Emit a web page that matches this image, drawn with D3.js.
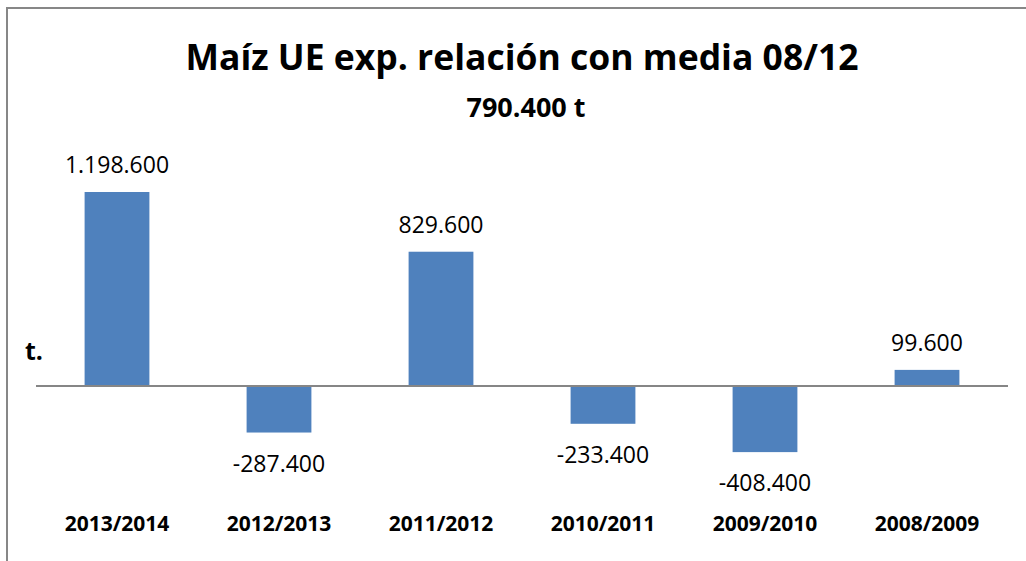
<!DOCTYPE html>
<html>
<head>
<meta charset="utf-8">
<script src="https://cdn.jsdelivr.net/npm/d3@7"></script>
<style>
  html, body { margin: 0; padding: 0; background: #fff; }
  svg { display: block; }
</style>
</head>
<body>
<div id="chart"></div>
<script>
// data
const campaigns = ['2013/2014', '2012/2013', '2011/2012', '2010/2011', '2009/2010', '2008/2009']
const diffs = [1198600, -287400, 829600, -233400, -408400, 99600]
const title = 'Maíz UE exp. relación con media 08/12'
const subtitle = '790.400 t'
const unitLabel = 't.'

const width = 1026, height = 561
const barColor = '#4F81BD'
const axisColor = '#868686'
const font = '"Open Sans", "Liberation Sans", sans-serif'

const es = d3.formatLocale({ decimal: ',', thousands: '.', grouping: [3], currency: ['', ' €'], minus: '-' })
const fmt = es.format(',')

const svg = d3.select('#chart')
  .append('svg')
    .attr('width', width)
    .attr('height', height)

// chart frame
svg.append('rect')
    .attr('x', 7)
    .attr('y', 8)
    .attr('width', width + 20)
    .attr('height', height + 20)
    .attr('fill', '#fff')
    .attr('stroke', '#878787')
    .attr('stroke-width', 2)

const x = d3.scaleBand()
    .domain(campaigns)
    .range([36, 1008])
    .paddingInner(0.6)
    .paddingOuter(0.3)

const y = d3.scaleLinear()
    .domain([-800000, 1400000])
    .range([515.5, 159.4])

const g = svg.append('g')

g.selectAll('rect.bar')
  .data(diffs)
  .enter()
  .append('rect')
    .attr('class', 'bar')
    .attr('x', (d, i) => x(campaigns[i]))
    .attr('width', x.bandwidth())
    .attr('y', d => y(Math.max(0, d)))
    .attr('height', d => Math.abs(y(d) - y(0)))
    .attr('fill', barColor)

// zero line
g.append('line')
    .attr('x1', 36)
    .attr('x2', 1008)
    .attr('y1', y(0))
    .attr('y2', y(0))
    .attr('stroke', axisColor)
    .attr('stroke-width', 2)

// value labels
g.selectAll('text.val')
  .data(diffs)
  .enter()
  .append('text')
    .attr('class', 'val')
    .attr('x', (d, i) => x(campaigns[i]) + x.bandwidth() / 2)
    .attr('y', d => d >= 0 ? y(d) - 19 : y(d) + 39)
    .attr('text-anchor', 'middle')
    .attr('font-family', font)
    .attr('font-size', 23)
    .attr('fill', '#000')
    .text(d => fmt(d))

// category labels
g.selectAll('text.cat')
  .data(campaigns)
  .enter()
  .append('text')
    .attr('class', 'cat')
    .attr('x', d => x(d) + x.bandwidth() / 2)
    .attr('y', 531)
    .attr('text-anchor', 'middle')
    .attr('font-family', font)
    .attr('font-weight', 'bold')
    .attr('font-size', 21)
    .text(d => d)

// unit label
svg.append('text')
    .attr('x', 25)
    .attr('y', 360)
    .attr('font-family', font)
    .attr('font-weight', 'bold')
    .attr('font-size', 25)
    .text(unitLabel)

svg.append('text')
    .attr('x', 522)
    .attr('y', 70)
    .attr('text-anchor', 'middle')
    .attr('font-family', font)
    .attr('font-weight', 'bold')
    .attr('font-size', 35.5)
    .text(title)

svg.append('text')
    .attr('x', 526)
    .attr('y', 117)
    .attr('text-anchor', 'middle')
    .attr('font-family', font)
    .attr('font-weight', 'bold')
    .attr('font-size', 27)
    .text(subtitle)
</script>
</body>
</html>
